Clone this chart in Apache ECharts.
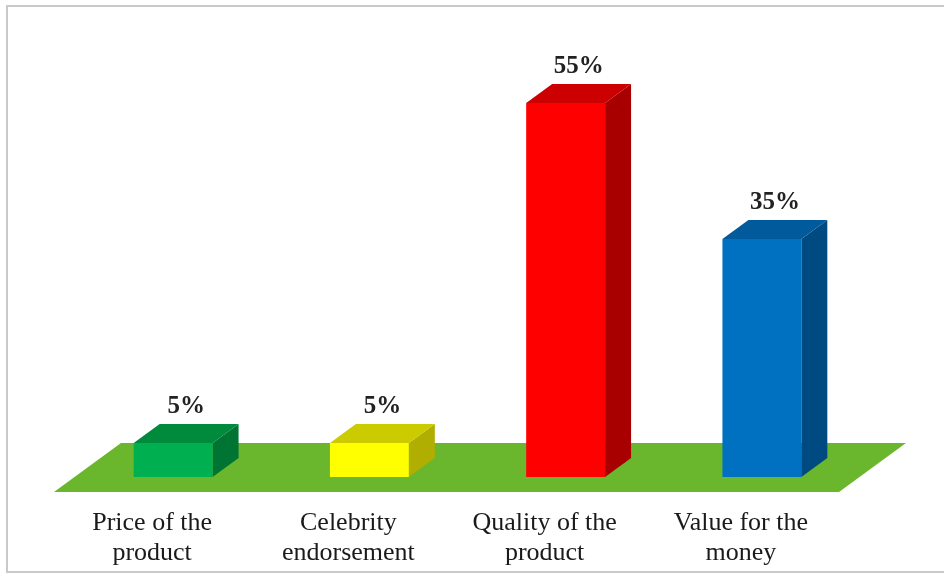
<!DOCTYPE html>
<html>
<head>
<meta charset="utf-8">
<script src="https://cdn.jsdelivr.net/npm/echarts@6/dist/echarts.min.js"></script>
<style>
  html, body { margin: 0; padding: 0; background: #ffffff; }
  #chart { width: 944px; height: 579px; }
</style>
</head>
<body>
<div id="chart"></div>
<script>
// Survey: factors influencing purchase decisions (share of respondents, %)
const categories = ['Price of the\nproduct', 'Celebrity\nendorsement', 'Quality of the\nproduct', 'Value for the\nmoney'];
const shares = [5, 5, 55, 35];

// Face colours of each 3D column: front, top, side
const frontColors = ['#00b050', '#ffff00', '#ff0000', '#0070c0'];
const topColors   = ['#008a3b', '#cccb00', '#cc0000', '#005a9c'];
const sideColors  = ['#007533', '#b0ae00', '#a80000', '#004a82'];

const floorColor = '#6ab62d';
const serif = '"Liberation Serif", "Times New Roman", serif';

// Depth of the columns and of the floor slab (screen px)
const barDepth = { dx: 26, dy: 19 };
const floorFront = { dx: -21, dy: 15 };
const floorBack = { dx: 46, dy: -34 };

const chart = echarts.init(document.getElementById('chart'));

function renderFloor(params, api) {
  const cs = params.coordSys;
  const y0 = api.coord([0, 0])[1];
  const xL = cs.x, xR = cs.x + cs.width;
  return {
    type: 'polygon',
    shape: {
      points: [
        [xL + floorFront.dx, y0 + floorFront.dy],
        [xR + floorFront.dx, y0 + floorFront.dy],
        [xR + floorBack.dx, y0 + floorBack.dy],
        [xL + floorBack.dx, y0 + floorBack.dy]
      ]
    },
    style: { fill: floorColor }
  };
}

function renderColumn(params, api) {
  const idx = api.value(0);
  const val = api.value(1);
  const base = api.coord([idx, 0]);
  const top = api.coord([idx, val]);
  const w = api.size([1, 0])[0] * 0.402;
  const x1 = base[0] - w / 2, x2 = base[0] + w / 2;
  const yb = base[1], yt = top[1];
  const dx = barDepth.dx, dy = barDepth.dy;
  return {
    type: 'group',
    children: [
      {
        type: 'polygon',
        shape: { points: [[x2, yt], [x2 + dx, yt - dy], [x2 + dx, yb - dy], [x2, yb]] },
        style: { fill: sideColors[idx] }
      },
      {
        type: 'polygon',
        shape: { points: [[x1, yt], [x2, yt], [x2 + dx, yt - dy], [x1 + dx, yt - dy]] },
        style: { fill: topColors[idx] }
      },
      {
        type: 'rect',
        shape: { x: x1, y: yt, width: w, height: yb - yt },
        style: { fill: frontColors[idx] }
      },
      {
        type: 'text',
        style: {
          text: val + '%',
          x: base[0] + dx / 2,
          y: yt - dy - 17,
          font: 'bold 25px ' + serif,
          fill: '#222222',
          align: 'center',
          verticalAlign: 'middle',
          textAlign: 'center',
          textVerticalAlign: 'middle'
        }
      }
    ]
  };
}

chart.setOption({
  backgroundColor: '#ffffff',
  animation: false,
  graphic: [{
    type: 'rect',
    shape: { x: 7, y: 6, width: 945, height: 566 },
    style: { fill: 'none', stroke: '#c9c9c9', lineWidth: 2 },
    silent: true
  }],
  grid: [
    { left: 75, right: 84, top: 69, bottom: 102 },
    { left: 54, right: 105, top: 69, bottom: 102 }
  ],
  xAxis: [
    {
      type: 'category', gridIndex: 0, data: categories,
      axisLine: { show: false }, axisTick: { show: false }, axisLabel: { show: false }
    },
    {
      type: 'category', gridIndex: 1, data: categories,
      axisLine: { show: false }, axisTick: { show: false },
      axisLabel: {
        margin: 31, interval: 0, color: '#1a1a1a',
        fontFamily: serif, fontSize: 26, lineHeight: 30
      }
    }
  ],
  yAxis: [
    { type: 'value', gridIndex: 0, min: 0, max: 60, show: false },
    { type: 'value', gridIndex: 1, min: 0, max: 60, show: false }
  ],
  series: [
    {
      type: 'custom', name: 'floor', xAxisIndex: 0, yAxisIndex: 0,
      renderItem: renderFloor, data: [[0, 0]], z: 1, silent: true
    },
    {
      type: 'custom', name: 'share', xAxisIndex: 0, yAxisIndex: 0,
      renderItem: renderColumn,
      data: shares.map((v, i) => [i, v]),
      encode: { x: 0, y: 1 }, z: 2
    }
  ]
});
</script>
</body>
</html>
